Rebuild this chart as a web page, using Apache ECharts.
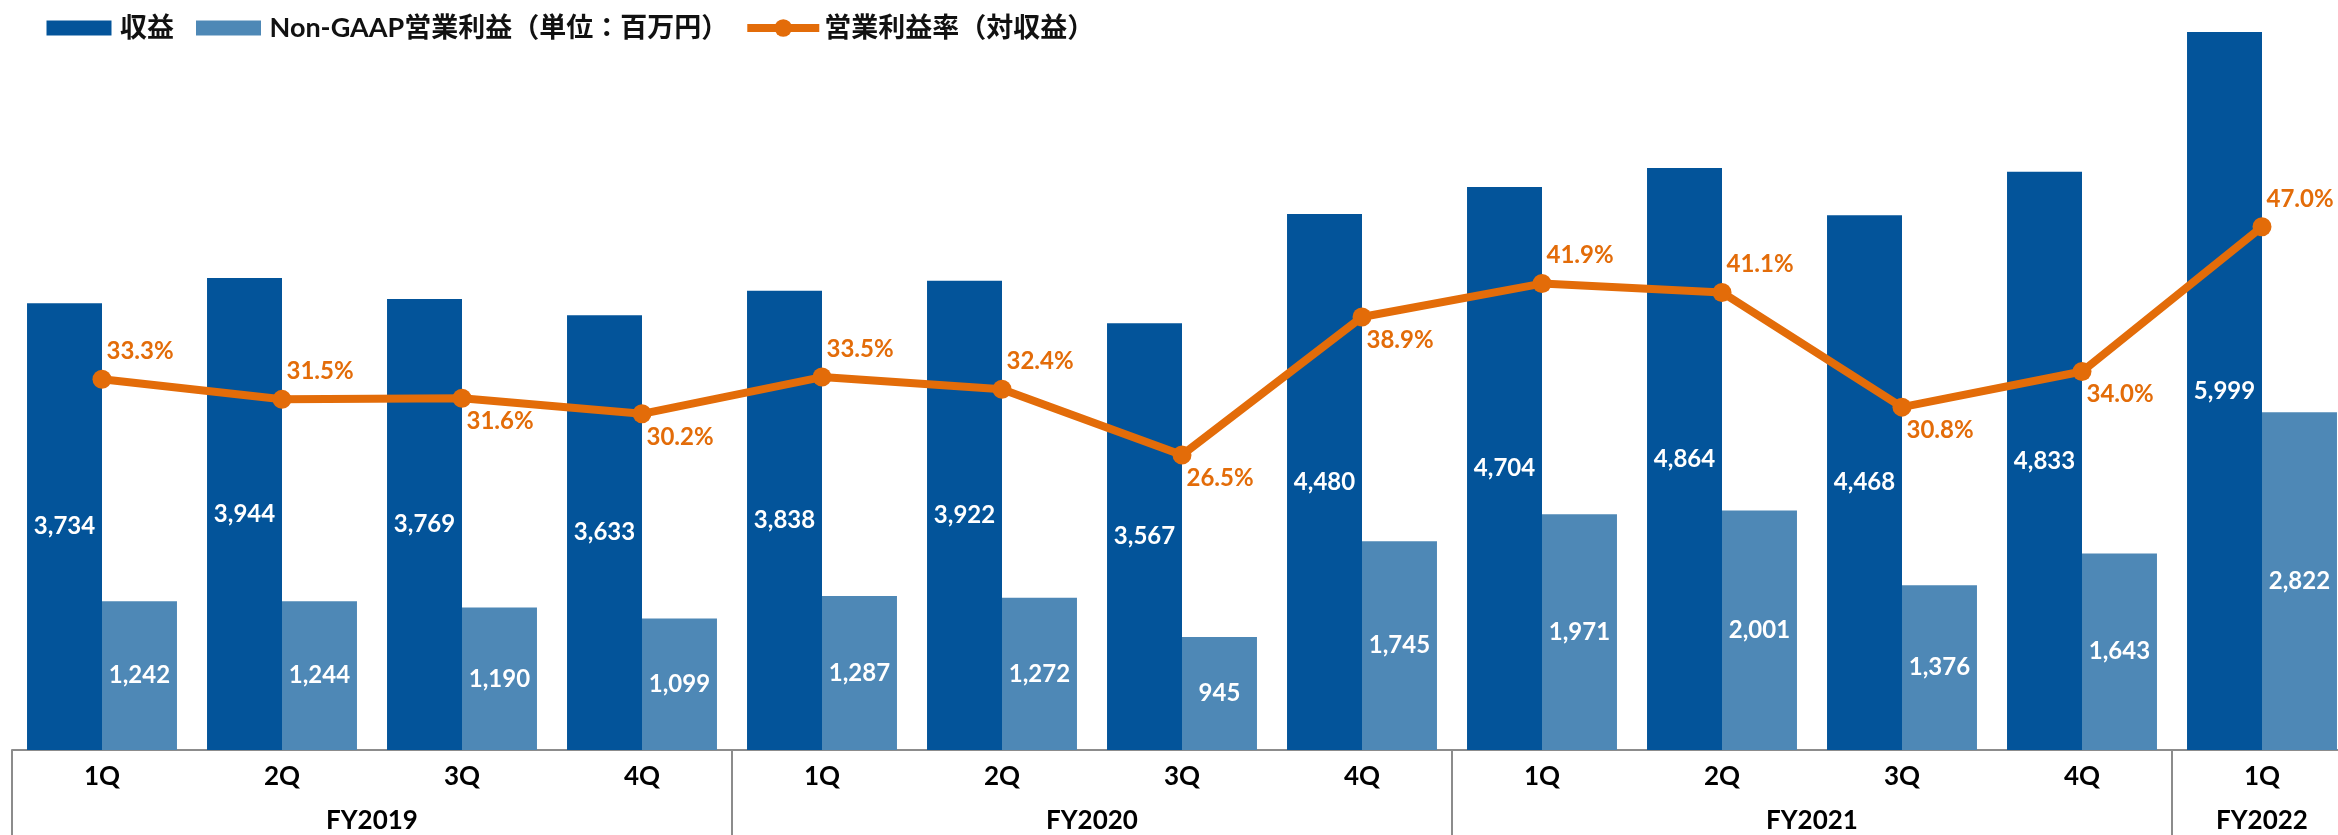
<!DOCTYPE html>
<html>
<head>
<meta charset="utf-8">
<script src="https://cdn.jsdelivr.net/npm/echarts@6/dist/echarts.min.js"></script>
<style>
  html, body { margin: 0; padding: 0; background: #ffffff; }
  #chart { width: 2338px; height: 835px; }
</style>
</head>
<body>
<div id="chart"></div>
<script>
// Quarterly figures (millions of yen)
const quarters = ['1Q', '2Q', '3Q', '4Q', '1Q', '2Q', '3Q', '4Q', '1Q', '2Q', '3Q', '4Q', '1Q'];
const fiscalYears = ['FY2019', 'FY2020', 'FY2021', 'FY2022'];
const quartersPerYear = [4, 4, 4, 1];
const revenue = [3734, 3944, 3769, 3633, 3838, 3922, 3567, 4480, 4704, 4864, 4468, 4833, 5999];
const operatingProfit = [1242, 1244, 1190, 1099, 1287, 1272, 945, 1745, 1971, 2001, 1376, 1643, 2822];
const operatingMargin = [33.3, 31.5, 31.6, 30.2, 33.5, 32.4, 26.5, 38.9, 41.9, 41.1, 30.8, 34.0, 47.0];
// Which side of its point each margin label sits on
const marginLabelSide = ['up', 'up', 'down', 'down', 'up', 'up', 'down', 'down', 'up', 'up', 'down', 'down', 'up'];

const seriesNames = ['収益', 'Non-GAAP営業利益（単位：百万円）', '営業利益率（対収益）'];

const DARK = '#03549A';
const LIGHT = '#4E88B6';
const ORANGE = '#E36C09';
const AXIS_GREY = '#8c8c8c';
const FONT = 'Lato, "Noto Sans CJK JP", sans-serif';

// Fiscal-year group boundaries and centres on a 0..N scale
const boundaries = [0];
const centers = [];
quartersPerYear.forEach((n, i) => {
  const start = boundaries[i];
  boundaries.push(start + n);
  centers.push(start + n / 2);
});
const yearAt = {};
centers.forEach((c, i) => { yearAt[c] = fiscalYears[i]; });

const chart = echarts.init(document.getElementById('chart'), null, { renderer: 'canvas' });

// Each quarter gets a 180px slot; the last fiscal year runs past the right edge
const SLOT = 180;

chart.setOption({
  animation: false,
  backgroundColor: '#ffffff',
  textStyle: { fontFamily: FONT },
  legend: {
    left: 39.5,
    top: 13.5,
    padding: 0,
    itemGap: 15,
    itemWidth: 72,
    itemHeight: 22,
    textStyle: { fontSize: 27, fontWeight: 'bold', color: '#111111', fontFamily: FONT },
    data: [
      { name: seriesNames[0], icon: 'rect', itemStyle: { borderColor: '#ffffff', borderWidth: 7 } },
      { name: seriesNames[1], icon: 'rect', itemStyle: { borderColor: '#ffffff', borderWidth: 7 } },
      { name: seriesNames[2], lineStyle: { width: 8 } }
    ]
  },
  grid: {
    left: 12,
    width: SLOT * quarters.length,
    top: 32,
    bottom: 85,
    containLabel: false,
    outerBoundsMode: 'none'
  },
  xAxis: [
    {
      type: 'category',
      data: quarters,
      axisLine: { show: true, lineStyle: { color: AXIS_GREY, width: 2 } },
      axisTick: { show: false },
      axisLabel: { fontSize: 26, fontWeight: 'bold', color: '#000000', margin: 14, interval: 0, fontFamily: FONT }
    },
    {
      type: 'value',
      position: 'bottom',
      min: 0,
      max: quarters.length,
      axisLine: { show: false },
      splitLine: { show: false },
      axisTick: {
        show: true,
        customValues: boundaries.slice(0, -1),
        length: 85,
        lineStyle: { color: AXIS_GREY, width: 2 }
      },
      axisLabel: {
        customValues: centers,
        formatter: (v) => yearAt[v] || '',
        fontSize: 26,
        fontWeight: 'bold',
        color: '#000000',
        margin: 58,
        fontFamily: FONT
      }
    }
  ],
  yAxis: [
    { type: 'value', min: 0, max: 6000, show: false },
    { type: 'value', min: 0, max: 64.5, show: false }
  ],
  series: [
    {
      name: seriesNames[0],
      type: 'bar',
      xAxisIndex: 0,
      yAxisIndex: 0,
      data: revenue,
      barGap: '0%',
      barCategoryGap: '16.7%',
      itemStyle: { color: DARK },
      label: {
        show: true,
        position: 'inside',
        color: '#ffffff',
        fontSize: 24,
        fontWeight: 'bold',
        fontFamily: FONT,
        formatter: (p) => p.value.toLocaleString('en-US')
      }
    },
    {
      name: seriesNames[1],
      type: 'bar',
      xAxisIndex: 0,
      yAxisIndex: 0,
      data: operatingProfit,
      itemStyle: { color: LIGHT },
      label: {
        show: true,
        position: 'inside',
        color: '#ffffff',
        fontSize: 24,
        fontWeight: 'bold',
        fontFamily: FONT,
        formatter: (p) => p.value.toLocaleString('en-US')
      }
    },
    {
      name: seriesNames[2],
      type: 'line',
      xAxisIndex: 0,
      yAxisIndex: 1,
      symbol: 'circle',
      symbolSize: 19,
      z: 5,
      lineStyle: { color: ORANGE, width: 8 },
      itemStyle: { color: ORANGE },
      data: operatingMargin.map((v, i) => ({
        value: v,
        label: { offset: [-5, marginLabelSide[i] === 'up' ? -28 : 23] }
      })),
      label: {
        show: true,
        position: 'right',
        distance: 0,
        color: ORANGE,
        fontSize: 24,
        fontWeight: 'bold',
        fontFamily: FONT,
        formatter: (p) => p.value.toFixed(1) + '%'
      }
    }
  ]
});
</script>
</body>
</html>
